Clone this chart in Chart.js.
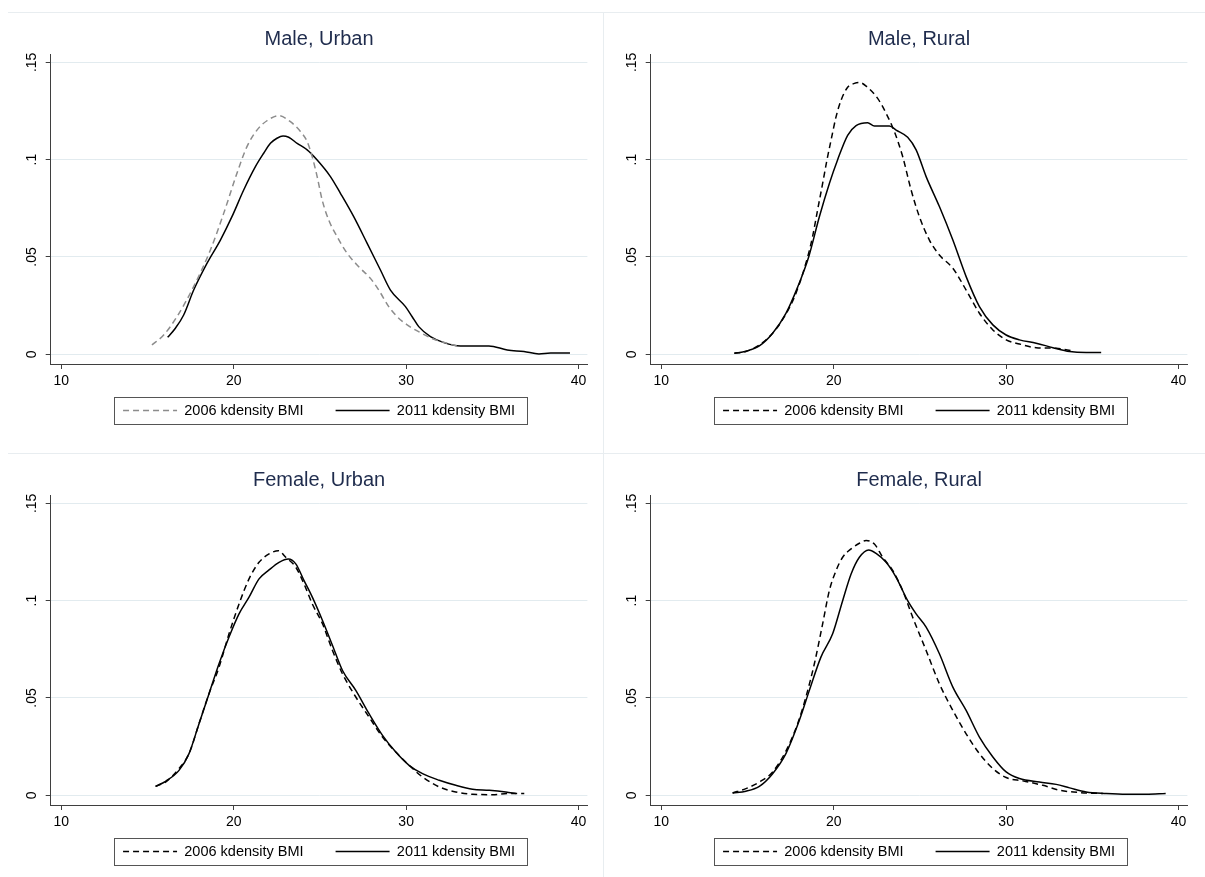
<!DOCTYPE html>
<html>
<head>
<meta charset="utf-8">
<title>Kernel density of BMI, 2006 vs 2011</title>
<script src="https://cdn.jsdelivr.net/npm/chart.js@4.4.1/dist/chart.umd.min.js"></script>
<style>
  html, body { margin: 0; padding: 0; background: #fff; }
  body { width: 1205px; height: 877px; position: relative; overflow: hidden; }
  .frame-h { position: absolute; left: 8px; right: 0; height: 1px; background: #e8edf0; }
  .frame-v { position: absolute; left: 603px; top: 12px; bottom: 0; width: 1px; background: #e8edf0; }
  .panel { position: absolute; }
  .panel canvas { display: block; }
</style>
</head>
<body>
<div class="frame-h" style="top:12px"></div>
<div class="frame-h" style="top:453px"></div>
<div class="frame-v"></div>

<div class="panel" style="left:0;top:12px"><canvas id="male-urban" width="600" height="440"></canvas></div>
<div class="panel" style="left:600px;top:12px"><canvas id="male-rural" width="605" height="440"></canvas></div>
<div class="panel" style="left:0;top:453px"><canvas id="female-urban" width="600" height="440"></canvas></div>
<div class="panel" style="left:600px;top:453px"><canvas id="female-rural" width="605" height="440"></canvas></div>

<script>
// axis ticks shared by all four panels
const xTicks = [10, 20, 30, 40];
const yTicks = [0, 0.05, 0.1, 0.15];
const yTickLabels = ['0', '.05', '.1', '.15'];
const seriesLabels = ['2006 kdensity BMI', '2011 kdensity BMI'];

// Male, Urban
const bmiMaleUrban2006 = [15.26, 15.94, 16.71, 17.68, 18.65, 19.42, 20.19, 20.77, 21.35, 21.93, 22.61, 23.29, 23.87, 24.26, 24.55, 24.84, 25.13, 25.51, 26.0, 26.58, 27.25, 27.93, 28.41, 28.99, 29.48, 30.06, 30.83, 31.61, 32.38, 33.06];
const densMaleUrban2006 = [0.0048, 0.0099, 0.0193, 0.0348, 0.0536, 0.0724, 0.093, 0.1067, 0.1152, 0.12, 0.1226, 0.1195, 0.1145, 0.1093, 0.1016, 0.0913, 0.0793, 0.069, 0.0604, 0.0519, 0.045, 0.039, 0.033, 0.0245, 0.0193, 0.0151, 0.0111, 0.0077, 0.0057, 0.0039];
const bmiMaleUrban2011 = [16.17, 16.62, 17.1, 17.68, 18.45, 19.23, 19.9, 20.58, 21.26, 21.74, 22.13, 22.51, 22.86, 23.19, 23.68, 24.26, 24.84, 25.61, 26.19, 26.96, 27.74, 28.51, 29.09, 29.96, 30.35, 30.73, 31.41, 32.19, 33.15, 34.8, 35.86, 36.83, 37.7, 38.38, 39.5];
const densMaleUrban2011 = [0.0087, 0.0134, 0.0202, 0.033, 0.0467, 0.0587, 0.0707, 0.0844, 0.0964, 0.1033, 0.1084, 0.111, 0.1122, 0.1115, 0.1084, 0.105, 0.0998, 0.0913, 0.0827, 0.0707, 0.057, 0.0433, 0.033, 0.0245, 0.0193, 0.0142, 0.0091, 0.006, 0.0043, 0.0043, 0.0022, 0.0014, 0.0002, 0.0007, 0.0007];

// Male, Rural
const bmiMaleRural2006 = [14.24, 14.91, 15.69, 16.46, 17.14, 17.81, 18.49, 18.78, 19.07, 19.36, 19.61, 19.85, 20.14, 20.43, 20.81, 21.2, 21.49, 21.88, 22.55, 23.04, 23.52, 24.0, 24.49, 24.97, 25.55, 26.13, 26.91, 27.68, 28.45, 29.23, 30.0, 30.77, 31.74, 32.9, 33.87];
const densMaleRural2006 = [0.0005, 0.0014, 0.0048, 0.0108, 0.0193, 0.0313, 0.05, 0.0606, 0.0743, 0.0878, 0.0998, 0.1101, 0.1221, 0.1306, 0.1372, 0.1392, 0.1397, 0.1378, 0.1315, 0.1238, 0.1144, 0.1016, 0.0844, 0.0707, 0.0587, 0.051, 0.0442, 0.033, 0.0211, 0.0125, 0.0074, 0.0053, 0.0034, 0.0031, 0.0017];
const bmiMaleRural2011 = [14.24, 14.91, 15.69, 16.46, 17.23, 17.91, 18.55, 19.17, 19.75, 20.23, 20.81, 21.3, 21.97, 22.36, 23.23, 23.62, 24.29, 24.78, 25.36, 26.13, 26.91, 27.68, 28.45, 29.23, 30.0, 30.77, 31.74, 32.71, 33.68, 34.64, 35.51];
const densMaleRural2011 = [0.0005, 0.0016, 0.0043, 0.0108, 0.021, 0.0345, 0.05, 0.0707, 0.0878, 0.1, 0.1125, 0.1175, 0.119, 0.1173, 0.1173, 0.1152, 0.1115, 0.105, 0.0913, 0.0759, 0.0587, 0.0399, 0.0245, 0.0151, 0.0099, 0.0074, 0.0057, 0.0034, 0.0014, 0.0009, 0.0009];

// Female, Urban
const bmiFemaleUrban2006 = [15.47, 16.05, 16.83, 17.41, 17.99, 18.57, 19.15, 19.73, 20.31, 20.89, 21.47, 22.05, 22.59, 23.02, 23.6, 24.08, 24.56, 25.15, 25.73, 26.31, 27.08, 27.85, 28.63, 29.4, 30.17, 30.95, 31.92, 32.88, 33.85, 35.01, 35.98, 36.85];
const densFemaleUrban2006 = [0.0046, 0.0068, 0.0137, 0.0214, 0.0368, 0.0522, 0.0658, 0.083, 0.0983, 0.1112, 0.1197, 0.124, 0.1257, 0.1223, 0.1172, 0.1086, 0.0983, 0.0881, 0.0744, 0.0624, 0.0505, 0.0402, 0.0299, 0.0222, 0.0154, 0.0094, 0.0043, 0.0017, 0.0005, 0.0003, 0.0009, 0.0009];
const bmiFemaleUrban2011 = [15.47, 16.05, 16.83, 17.41, 17.99, 18.57, 19.15, 19.73, 20.31, 20.89, 21.47, 22.05, 22.63, 23.17, 23.6, 24.08, 24.56, 25.15, 25.73, 26.31, 27.08, 27.85, 28.63, 29.4, 30.17, 30.95, 31.92, 32.88, 33.85, 34.82, 35.78, 36.36];
const densFemaleUrban2011 = [0.0046, 0.0072, 0.0128, 0.0214, 0.0368, 0.0522, 0.0676, 0.0813, 0.0932, 0.1018, 0.1112, 0.1158, 0.1197, 0.1214, 0.1189, 0.1103, 0.1018, 0.0898, 0.077, 0.0641, 0.0539, 0.0419, 0.0308, 0.0222, 0.0154, 0.0111, 0.0077, 0.0051, 0.0031, 0.0026, 0.0017, 0.0009];

// Female, Rural
const bmiFemaleRural2006 = [14.14, 14.91, 15.69, 16.46, 17.23, 17.91, 18.39, 18.88, 19.36, 19.75, 20.14, 20.52, 21.01, 21.49, 21.88, 22.36, 22.84, 23.42, 24.0, 24.58, 25.36, 26.13, 26.91, 27.68, 28.45, 29.23, 30.0, 30.97, 32.13, 33.09, 34.26, 35.61];
const densFemaleRural2006 = [0.0012, 0.0034, 0.0068, 0.012, 0.0227, 0.0368, 0.0505, 0.0676, 0.0881, 0.1052, 0.1155, 0.1223, 0.1266, 0.1295, 0.1309, 0.1291, 0.1223, 0.1155, 0.1052, 0.0915, 0.0744, 0.0573, 0.0436, 0.0316, 0.0214, 0.0137, 0.0091, 0.0074, 0.0051, 0.0026, 0.0014, 0.0009];
const bmiFemaleRural2011 = [14.14, 14.91, 15.69, 16.46, 17.23, 18.01, 18.59, 19.26, 19.94, 20.52, 21.01, 21.49, 22.03, 22.46, 23.04, 23.62, 24.29, 24.78, 25.36, 26.13, 26.91, 27.68, 28.45, 29.23, 30.0, 30.77, 31.93, 32.9, 33.68, 34.64, 35.8, 36.96, 38.12, 39.25];
const densFemaleRural2011 = [0.0012, 0.0021, 0.0046, 0.0111, 0.0214, 0.0385, 0.0539, 0.071, 0.083, 0.1, 0.1137, 0.1223, 0.1261, 0.1243, 0.1197, 0.112, 0.1, 0.0932, 0.0864, 0.0727, 0.0556, 0.0436, 0.0299, 0.0197, 0.012, 0.0086, 0.0068, 0.0056, 0.0038, 0.0017, 0.0009, 0.0005, 0.0005, 0.0009];

Chart.defaults.font.family = "'Liberation Sans', Arial, sans-serif";
Chart.defaults.color = '#000';

const axisColor = '#3f3f3f';
const gridColor = '#e2ebef';

function toPoints(xs, ys) {
  return xs.map((x, i) => ({ x, y: ys[i] }));
}

// pull the legend up right under the x tick labels (Stata keeps it tight)
const legendPlacement = {
  id: 'legendPlacement',
  afterLayout(chart) {
    const legend = chart.legend;
    if (!legend) return;
    const top = chart.chartArea.bottom + 7.25;
    legend.bottom = top + legend.height;
    legend.top = top;
  }
};

// Stata draws a framed legend box; Chart.js has none, so outline the hitboxes
const legendFrame = {
  id: 'legendFrame',
  afterDraw(chart) {
    const boxes = chart.legend && chart.legend.legendHitBoxes;
    if (!boxes || !boxes.length) return;
    const first = boxes[0];
    const last = boxes[boxes.length - 1];
    const left = Math.round(first.left - 9) + 0.5;
    const right = Math.round(last.left + last.width + 12) + 0.5;
    const top = Math.round(first.top - 6) + 0.5;
    const bottom = Math.round(first.top + first.height + 6) + 0.5;
    const ctx = chart.ctx;
    ctx.save();
    ctx.strokeStyle = '#555';
    ctx.lineWidth = 1;
    ctx.strokeRect(left, top, right - left, bottom - top);
    ctx.restore();
  }
};

// point-style legend items take their look from the points, so copy the line dash back in
function legendLabels(chart) {
  const items = Chart.defaults.plugins.legend.labels.generateLabels(chart);
  return items.map(item => {
    const ds = chart.data.datasets[item.datasetIndex];
    return { ...item, lineDash: ds.borderDash || [], lineWidth: ds.borderWidth, strokeStyle: ds.borderColor };
  });
}

function renderPanel(canvasId, title, series2006, series2011, color2006, rightPad) {
  const ctx = document.getElementById(canvasId).getContext('2d');
  return new Chart(ctx, {
    type: 'line',
    data: {
      datasets: [
        {
          label: seriesLabels[0],
          data: series2006,
          borderColor: color2006,
          borderWidth: 1.5,
          borderDash: [6, 4],
          pointRadius: 0,
          cubicInterpolationMode: 'monotone',
          fill: false
        },
        {
          label: seriesLabels[1],
          data: series2011,
          borderColor: '#000',
          borderWidth: 1.5,
          pointRadius: 0,
          cubicInterpolationMode: 'monotone',
          fill: false
        }
      ]
    },
    options: {
      responsive: false,
      animation: false,
      events: [],
      layout: { padding: { left: 0, right: rightPad, top: 0, bottom: 5.5 } },
      scales: {
        x: {
          type: 'linear',
          min: 9.39,
          max: 40.51,
          afterBuildTicks: scale => { scale.ticks = xTicks.map(v => ({ value: v })); },
          afterFit: scale => { scale.height = 26; },
          ticks: { padding: 4, font: { size: 14 }, color: '#000', maxRotation: 0 },
          grid: { drawOnChartArea: false, tickColor: axisColor, tickLength: 5 },
          border: { display: true, color: axisColor, width: 1 }
        },
        y: {
          type: 'linear',
          min: -0.005,
          max: 0.1543,
          afterBuildTicks: scale => { scale.ticks = yTicks.map(v => ({ value: v })); },
          afterFit: scale => { scale.width = 50.7; },
          ticks: {
            padding: 4,
            font: { size: 14 },
            color: '#000',
            minRotation: 90,
            maxRotation: 90,
            crossAlign: 'center',
            callback: value => yTickLabels[yTicks.indexOf(value)]
          },
          grid: { color: gridColor, lineWidth: 1, tickColor: axisColor, tickLength: 5 },
          border: { display: true, color: axisColor, width: 1 }
        }
      },
      plugins: {
        title: {
          display: true,
          text: title,
          fullSize: false,
          color: '#1f2c4d',
          font: { size: 20, weight: 'normal' },
          padding: { top: 15.3, bottom: 2.7 }
        },
        legend: {
          position: 'bottom',
          fullSize: false,
          labels: {
            usePointStyle: true,
            pointStyle: 'line',
            pointStyleWidth: 54,
            padding: 32,
            color: '#000',
            font: { size: 14.5 },
            generateLabels: legendLabels
          }
        },
        tooltip: { enabled: false }
      }
    },
    plugins: [legendPlacement, legendFrame]
  });
}

function initFigure() {
  renderPanel('male-urban', 'Male, Urban',
    toPoints(bmiMaleUrban2006, densMaleUrban2006),
    toPoints(bmiMaleUrban2011, densMaleUrban2011), '#8c8c8c', 12.6);
  renderPanel('male-rural', 'Male, Rural',
    toPoints(bmiMaleRural2006, densMaleRural2006),
    toPoints(bmiMaleRural2011, densMaleRural2011), '#000', 17.6);
  renderPanel('female-urban', 'Female, Urban',
    toPoints(bmiFemaleUrban2006, densFemaleUrban2006),
    toPoints(bmiFemaleUrban2011, densFemaleUrban2011), '#000', 12.6);
  renderPanel('female-rural', 'Female, Rural',
    toPoints(bmiFemaleRural2006, densFemaleRural2006),
    toPoints(bmiFemaleRural2011, densFemaleRural2011), '#000', 17.6);
}

document.addEventListener('DOMContentLoaded', initFigure);
</script>
</body>
</html>
